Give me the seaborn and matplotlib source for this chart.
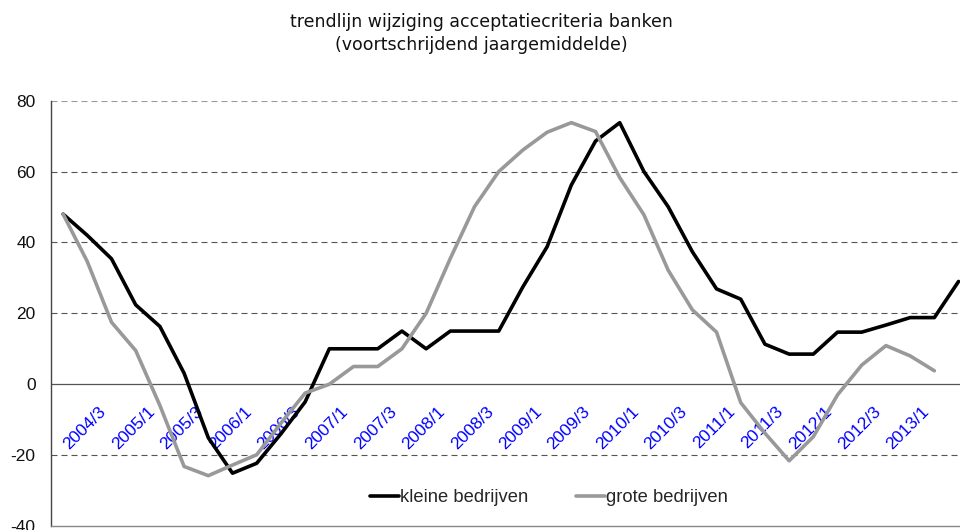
import matplotlib
matplotlib.use("Agg")
import matplotlib.pyplot as plt
import seaborn as sns
import pandas as pd
import numpy as np
from matplotlib.lines import Line2D

# ---- data ----
quarters = []
y, q = 2004, 3
for _ in range(38):
    quarters.append(f"{y}/{q}")
    q += 1
    if q > 4:
        q = 1
        y += 1
n_labelled = 35  # labels shown up to 2013/1

kleine = [48, 42, 35.4, 22.4, 16.3, 3.1, -15.1, -25.1, -22.3, -14, -5, 10,
          10, 10, 15, 10, 15, 15, 15, 27.5, 38.8, 56.2, 68.6, 73.8,
          60, 50.1, 37.4, 26.9, 24, 11.3, 8.5, 8.5, 14.7, 14.7, 16.7, 18.8,
          18.8, 29]
grote = [48, 34.6, 17.5, 9.5, -6, -23.2, -25.8, -22.8, -19.9, -11, -2.5, 0,
         5, 5, 10, 20, 35.5, 50.1, 60, 66.1, 71.1, 73.8, 71.3, 58.3,
         47.8, 32.2, 21, 14.7, -5.2, -13.8, -21.6, -14.8, -3, 5.4, 10.9, 8,
         3.8, np.nan]

series_names = ["kleine bedrijven", "grote bedrijven"]
colors = ["#000000", "#999999"]
title = "trendlijn wijziging acceptatiecriteria banken\n(voortschrijdend jaargemiddelde)"
yticks = [-40, -20, 0, 20, 40, 60, 80]

idx = np.arange(len(quarters))
df = pd.DataFrame({
    "idx": np.concatenate([idx, idx]),
    "waarde": kleine + grote,
    "reeks": [series_names[0]] * len(idx) + [series_names[1]] * len(idx),
})

sns.set_style("white")
plt.rcParams["font.family"] = ["Liberation Sans", "DejaVu Sans"]

fig = plt.figure(figsize=(9.6, 5.3), dpi=100)
ax = fig.add_axes([51 / 960, 4 / 530, 909 / 960, 425.3 / 530])

# gridlines
for v in yticks:
    if v in (-40, 0):
        continue
    col = "#999999" if v == 80 else "#555555"
    ax.axhline(v, color=col, lw=0.8, ls=(0, (5.4, 3.6)), zorder=1)
ax.axhline(0, color="#555555", lw=0.9, zorder=1)

sns.lineplot(data=df, x="idx", y="waarde", hue="reeks", palette=colors,
             hue_order=series_names, lw=2.6, ax=ax, legend=False, zorder=3)

ax.set_xlim(-0.5, 37.06)
ax.set_ylim(-40, 80)
ax.set_xticks([])
ax.set_yticks(yticks)
ax.set_yticklabels([str(v) for v in yticks], fontsize=12.5, color="#111111")
ax.tick_params(axis="y", length=0, pad=11)
ax.set_xlabel("")
ax.set_ylabel("")

for s in ["top", "right"]:
    ax.spines[s].set_visible(False)
ax.spines["left"].set_color("#444444")
ax.spines["left"].set_linewidth(1.0)
ax.spines["bottom"].set_color("#888888")
ax.spines["bottom"].set_linewidth(1.0)

# rotated category labels under the zero line
for i in range(0, n_labelled, 2):
    ax.text(i + 0.91, -12.3, quarters[i], rotation=45, ha="center", va="center",
            color="#0000ff", fontsize=12.5, zorder=2)

# legend
handles = [Line2D([0], [0], color=c, lw=2.6) for c in colors]
ax.legend(handles, series_names, loc="center", bbox_to_anchor=(0.548, 0.066),
          ncol=2, frameon=False, fontsize=13.2, handlelength=1.6,
          handletextpad=0.05, columnspacing=2.6)

fig.text(0.501, 1 - 33.5 / 530, title, ha="center", va="center",
         fontsize=12.5, family="DejaVu Sans", color="#111111", linespacing=1.38)

fig.savefig("out.png", dpi=100)
